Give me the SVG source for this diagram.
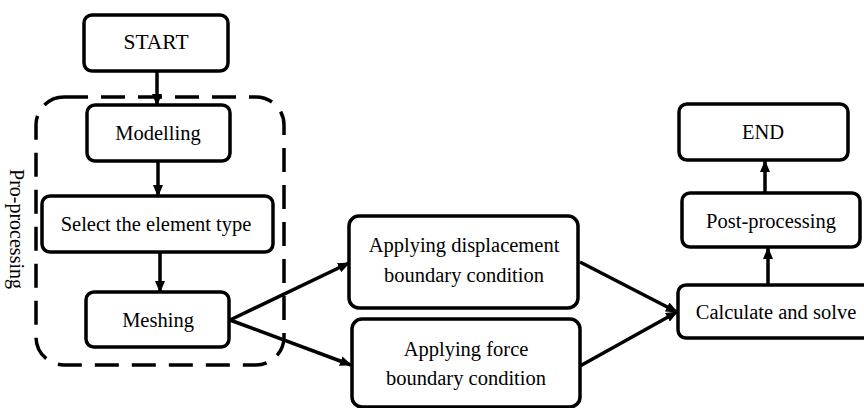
<svg xmlns="http://www.w3.org/2000/svg" width="864" height="408" viewBox="0 0 864 408">
<defs>
<marker id="arr" viewBox="0 0 12 10" refX="11" refY="5" markerWidth="12" markerHeight="10" markerUnits="userSpaceOnUse" orient="auto">
<path d="M0,0 L12,5 L0,10 Z" fill="#000"/>
</marker>
<style>
.box{fill:#fff;stroke:#000;stroke-width:3.5}
.t{font-family:"Liberation Serif","Times New Roman",serif;font-size:20.5px;fill:#000;text-anchor:middle}
.c{stroke:#000;stroke-width:3.5;fill:none;marker-end:url(#arr)}
.grp{fill:none;stroke:#000;stroke-width:3.5;stroke-dasharray:24 13}
</style>
</defs>
<rect width="864" height="408" fill="#fff"/>
<g id="preprocessing">
<rect class="grp" x="36" y="97" width="248" height="268" rx="28"/>
<text class="t" transform="translate(10,229) rotate(90)" x="0" y="0" style="font-size:20px">Pro-processing</text>
</g>
<g id="start"><rect class="box" x="84" y="15" width="144" height="56" rx="8"/><text class="t" x="156" y="49" style="font-size:21.5px">START</text></g>
<g id="modelling"><rect class="box" x="87" y="105" width="143" height="56" rx="8"/><text class="t" x="158" y="140">Modelling</text></g>
<g id="select"><rect class="box" x="42" y="196" width="231" height="56" rx="8"/><text class="t" x="156" y="231">Select the element type</text></g>
<g id="meshing"><rect class="box" x="86" y="292" width="143" height="55" rx="8"/><text class="t" x="158" y="327">Meshing</text></g>
<g id="disp"><rect class="box" x="349" y="216" width="229" height="92" rx="10"/><text class="t" x="464" y="252">Applying displacement</text><text class="t" x="464" y="282">boundary condition</text></g>
<g id="force"><rect class="box" x="352" y="319" width="228" height="88" rx="10"/><text class="t" x="466" y="356">Applying force</text><text class="t" x="466" y="385">boundary condition</text></g>
<g id="calc"><rect class="box" x="678" y="285" width="200" height="53" rx="8"/><text class="t" x="776" y="319">Calculate and solve</text></g>
<g id="post"><rect class="box" x="682" y="193" width="178" height="54" rx="8"/><text class="t" x="771" y="228">Post-processing</text></g>
<g id="end"><rect class="box" x="679" y="104" width="169" height="56" rx="8"/><text class="t" x="763" y="139">END</text></g>
<g id="connectors">
<line class="c" x1="157" y1="71" x2="157" y2="105"/>
<line class="c" x1="158" y1="161" x2="158" y2="196"/>
<line class="c" x1="160" y1="252" x2="160" y2="292"/>
<line class="c" x1="230" y1="320" x2="349" y2="263"/>
<line class="c" x1="230" y1="320" x2="351" y2="365"/>
<line class="c" x1="580" y1="262" x2="677" y2="312"/>
<line class="c" x1="580" y1="366" x2="677" y2="312"/>
<line class="c" x1="768" y1="285" x2="768" y2="248"/>
<line class="c" x1="765" y1="193" x2="765" y2="161"/>
</g>
</svg>
